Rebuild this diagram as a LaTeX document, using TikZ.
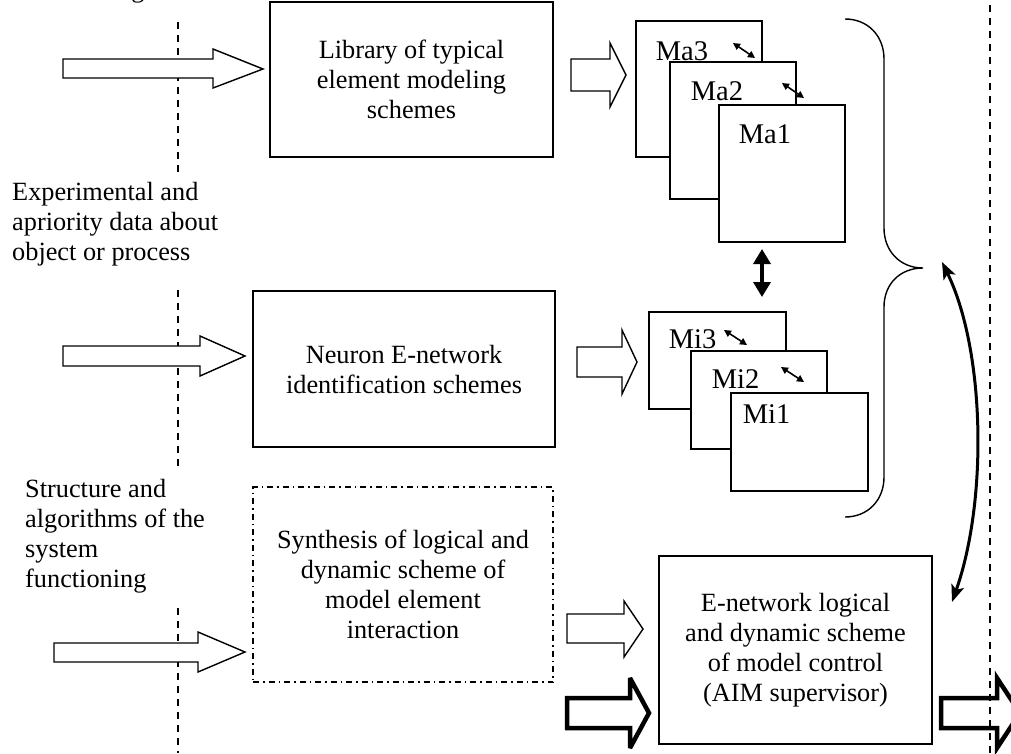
\documentclass[tikz,border=0pt]{standalone}
\usepackage{fontspec}
\setmainfont{Liberation Serif}
\usetikzlibrary{arrows.meta}
\begin{document}
\begin{tikzpicture}[x=1pt,y=-1pt,
  font=\fontsize{26.3}{30}\selectfont,
  box/.style={draw,line width=1.4pt,inner sep=0pt,align=center,fill=white},
  lbl/.style={anchor=base,inner sep=0pt,font=\fontsize{28.5}{30}\selectfont},
  txt/.style={anchor=west,inner sep=0pt,align=left},
  hol/.style={draw,line width=1.4pt,fill=white,line join=miter},
  thk/.style={draw,line width=4.5pt,fill=white,line join=miter,miter limit=4},
  vdash/.style={line width=1.3pt,dash pattern=on 7pt off 6pt},
  ddot/.style={draw,line width=1.3pt,dash pattern=on 6pt off 4pt on 1.5pt off 4pt,inner sep=0pt,align=center},
  small/.style={line width=1.6pt,{Triangle[length=7pt,width=7pt]}-{Triangle[length=7pt,width=7pt]}},
  bigdbl/.style={line width=3.5pt,{Triangle[length=15pt,width=17pt]}-{Triangle[length=15pt,width=17pt]}},
  curv/.style={line width=3pt,{Stealth[length=17pt,width=13pt,inset=4pt]}-{Stealth[length=17pt,width=13pt,inset=4pt]}}
]
\useasboundingbox (0,0) rectangle (1011,753);

% dashed vertical lines
\draw[vdash] (178,22) -- (178,175);
\draw[vdash] (178,290) -- (178,470);
\draw[vdash] (178,608) -- (178,753);

% clipped fragment of text at top (as in the reference)
\node[anchor=base,inner sep=0pt] (frag) at (138,-3) {g};

% left texts
\node[txt] (exp) at (12,224) {Experimental and\\apriority data about\\object or process};
\node[txt] (str) at (25,536) {Structure and\\algorithms of the\\system\\functioning};

% main boxes
\node[box,minimum width=283pt,minimum height=155pt] (lib) at (411.5,79.5) {Library of typical\\element modeling\\schemes};
\node[box,minimum width=302pt,minimum height=156pt] (neu) at (404,369) {Neuron E-network\\identification schemes};
\node[ddot,minimum width=300pt,minimum height=195pt] (syn) at (403,584.5) {Synthesis of logical and\\dynamic scheme of\\model element\\interaction};
\node[box,minimum width=273pt,minimum height=188pt] (sup) at (795.5,650) {E-network logical\\and dynamic scheme\\of model control\\(AIM supervisor)};

% Ma stack
\node[box,minimum width=126pt,minimum height=136pt] (ma3) at (699,89) {};
\node[lbl] (ma3t) at (682,60) {Ma3};
\draw[small] (733,43) -- (755,58);
\node[box,minimum width=126pt,minimum height=137pt] (ma2) at (733,130.5) {};
\node[lbl] (ma2t) at (717,100) {Ma2};
\draw[small] (782,83) -- (804,98);
\node[box,minimum width=126pt,minimum height=137pt] (ma1) at (782,173.5) {};
\node[lbl] (ma1t) at (765,143) {Ma1};

% Mi stack
\node[box,minimum width=137pt,minimum height=97pt] (mi3) at (717.5,360.5) {};
\node[lbl] (mi3t) at (692.5,348) {Mi3};
\draw[small] (724,330) -- (747,345);
\node[box,minimum width=136pt,minimum height=98pt] (mi2) at (759,400) {};
\node[lbl] (mi2t) at (735.5,388) {Mi2};
\draw[small] (781,367) -- (804,382);
\node[box,minimum width=137pt,minimum height=98pt] (mi1) at (799.5,442) {};
\node[lbl] (mi1t) at (766.5,423) {Mi1};

% double arrow between stacks
\coordinate (da1) at (762,249);
\coordinate (da2) at (762,297);
\draw[bigdbl] (da1) -- (da2);

% brace
\draw[line width=1.4pt] (845,19) .. controls (868,19) and (884,36) .. (884,59)
  -- (884,228) .. controls (884,251) and (900,268) .. (923,268)
  .. controls (900,268) and (884,284) .. (884,307)
  -- (884,477) .. controls (884,500) and (868,517) .. (845,517);

% curved double arrow
\coordinate (bt) at (942,262);
\coordinate (se) at (952,602);
\draw[curv] (bt) .. controls (985,350) and (988,500) .. (se);

% hollow block arrows
\draw[hol] (63,59) -- (213,59) -- (213,49) -- (263,69) -- (213,88) -- (213,78) -- (63,78) -- cycle;
\draw[hol] (571,59) -- (610,59) -- (610,43) -- (626,75) -- (610,107) -- (610,91) -- (571,91) -- cycle;
\draw[hol] (63,346) -- (200,346) -- (200,336) -- (245,356) -- (200,376) -- (200,366) -- (63,366) -- cycle;
\draw[hol] (577,347) -- (622,347) -- (622,330) -- (637,362) -- (622,394) -- (622,377) -- (577,377) -- cycle;
\draw[hol] (54,643) -- (198,643) -- (198,632) -- (245,652) -- (198,672) -- (198,662) -- (54,662) -- cycle;
\draw[hol] (567,614) -- (624,614) -- (624,601) -- (643,629) -- (624,657) -- (624,643) -- (567,643) -- cycle;
\draw[thk] (567,698) -- (630,698) -- (630,678) -- (649,713) -- (630,748) -- (630,728) -- (567,728) -- cycle;
\draw[thk] (941,698) -- (997,698) -- (997,678) -- (1020,713) -- (997,748) -- (997,728) -- (941,728) -- cycle;

% right dashed line
\draw[vdash] (990,5) -- (990,753);
\end{tikzpicture}
\end{document}
